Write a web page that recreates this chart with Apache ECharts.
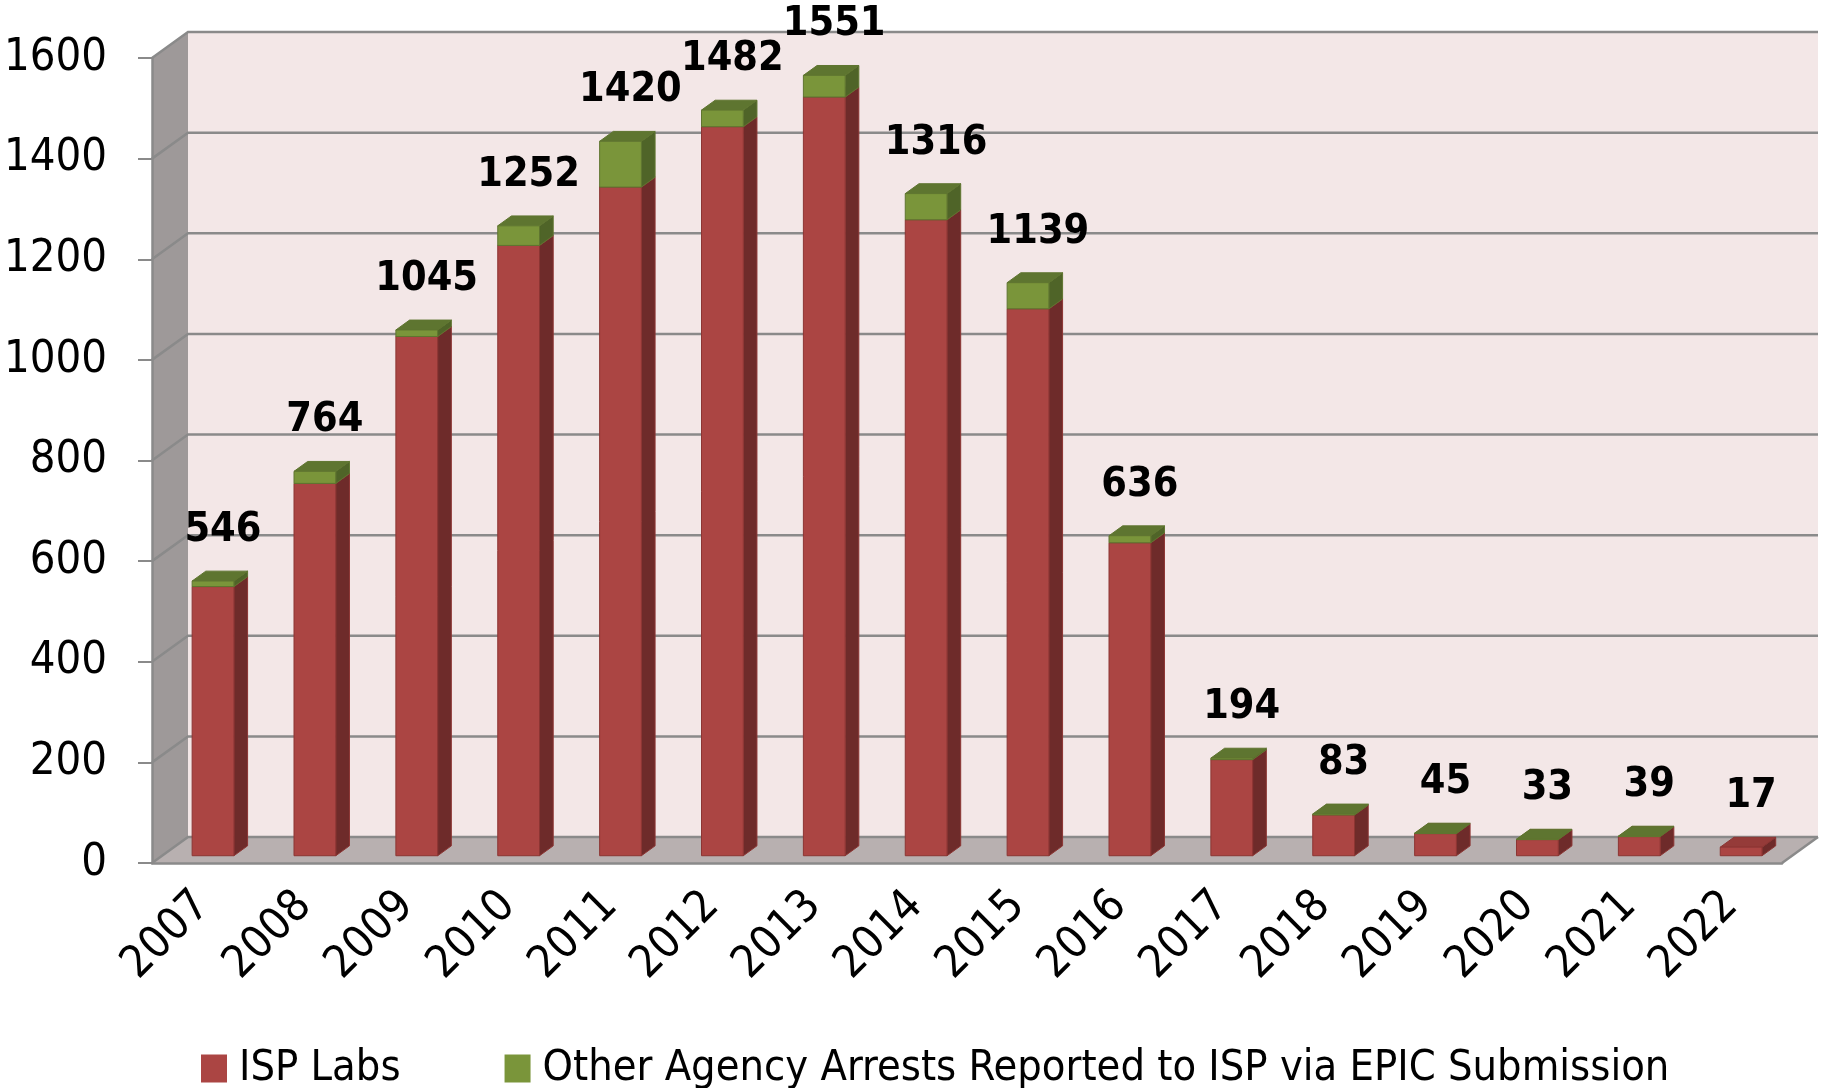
<!DOCTYPE html>
<html>
<head>
<meta charset="utf-8">
<script src="https://cdn.jsdelivr.net/npm/echarts@6/dist/echarts.min.js"></script>
<style>
  html, body { margin: 0; padding: 0; background: #fff; }
  #chart { width: 1826px; height: 1088px; }
</style>
</head>
<body>
<div id="chart"></div>
<script>
const years = ['2007', '2008', '2009', '2010', '2011', '2012', '2013', '2014',
  '2015', '2016', '2017', '2018', '2019', '2020', '2021', '2022']
const ispLabs = [535, 740, 1032, 1213, 1329, 1449, 1508, 1264, 1087, 622, 191, 81, 44, 32, 38, 17]
const otherAgency = [11, 24, 13, 39, 91, 33, 43, 52, 52, 14, 3, 2, 1, 1, 1, 0]
const yTicks = [0, 200, 400, 600, 800, 1000, 1200, 1400, 1600]

const totals = ispLabs.map((v, i) => v + otherAgency[i])

const FONT = "'Liberation Sans Narrow', 'DejaVu Sans Condensed', Lato, sans-serif"
// fake 3D depth of the plot box, in px
const DX = 36
const DY = 26
// bars sit between these fractions of the depth
const F0 = 0.28
const F1 = 0.66

const RED = { front: '#ab4543', side: '#6e2b2a', top: '#953b39', edge: '#8c3533' }
const GREEN = { front: '#7a953a', side: '#4f6428', top: '#5e7530', edge: '#5f7530' }

const chart = echarts.init(document.getElementById('chart'))

function renderWalls(params, api) {
  const band = api.size([1, 0])[0]
  const left = api.coord([0, 0])[0] - band / 2
  const right = api.coord([years.length - 1, 0])[0] + band / 2
  const y0 = api.coord([0, 0])[1]
  const yTop = api.coord([0, yTicks[yTicks.length - 1]])[1]
  const children = [
    {
      type: 'rect',
      shape: { x: left + DX, y: yTop - DY, width: right - left, height: y0 - yTop },
      style: { fill: '#f3e7e7' },
    },
    {
      type: 'polygon',
      shape: { points: [[left, yTop], [left + DX, yTop - DY], [left + DX, y0 - DY], [left, y0]] },
      style: { fill: '#9e9999' },
    },
    {
      type: 'polygon',
      shape: { points: [[left, y0], [right, y0], [right + DX, y0 - DY], [left + DX, y0 - DY]] },
      style: { fill: '#b8b0b0' },
    },
  ]
  yTicks.forEach((v) => {
    const y = api.coord([0, v])[1]
    children.push({
      type: 'polyline',
      shape: { points: [[left, y], [left + DX, y - DY], [right + DX, y - DY]] },
      style: { stroke: '#8a8a8a', lineWidth: 2.5, fill: null },
    })
  })
  children.push({
    type: 'line',
    shape: { x1: right, y1: y0, x2: right + DX, y2: y0 - DY },
    style: { stroke: '#8a8a8a', lineWidth: 2.5 },
  })
  return { type: 'group', children }
}

function boxRenderer(c) {
  return function (params, api) {
    const i = api.value(0)
    const lo = api.value(1)
    const hi = api.value(2)
    if (!(hi > lo)) return
    const band = api.size([1, 0])[0]
    const w = band * 0.41
    const cx = api.coord([i, 0])[0]
    const x0 = cx + DX * F0 - w / 2
    const x1 = x0 + w
    const yLo = api.coord([i, lo])[1] - DY * F0
    const yHi = api.coord([i, hi])[1] - DY * F0
    const sdx = DX * (F1 - F0)
    const sdy = DY * (F1 - F0)
    return {
      type: 'group',
      children: [
        {
          type: 'polygon',
          shape: { points: [[x1, yLo], [x1 + sdx, yLo - sdy], [x1 + sdx, yHi - sdy], [x1, yHi]] },
          style: { fill: c.side, stroke: c.edge, lineWidth: 1 },
        },
        {
          type: 'polygon',
          shape: { points: [[x0, yHi], [x1, yHi], [x1 + sdx, yHi - sdy], [x0 + sdx, yHi - sdy]] },
          style: { fill: c.top, stroke: c.edge, lineWidth: 1 },
        },
        {
          type: 'rect',
          shape: { x: x0, y: yHi, width: w, height: yLo - yHi },
          style: { fill: c.front, stroke: c.edge, lineWidth: 1 },
        },
      ],
    }
  }
}

function renderLabel(params, api) {
  const i = api.value(0)
  const total = api.value(1)
  const p = api.coord([i, total])
  return {
    type: 'text',
    x: p[0] + 20,
    y: p[1] - 58,
    style: {
      text: String(total),
      fontSize: 41,
      fontWeight: 'bold',
      fontFamily: FONT,
      fill: '#000',
      align: 'center',
      verticalAlign: 'middle',
    },
  }
}

chart.setOption({
  animation: false,
  legend: {
    data: ['ISP Labs', 'Other Agency Arrests Reported to ISP via EPIC Submission'],
    icon: 'rect',
    left: 196,
    top: 1042,
    itemWidth: 26,
    itemHeight: 28,
    itemGap: 104,
    textStyle: { fontSize: 43, fontFamily: FONT, color: '#000', padding: [0, 0, 0, 7] },
  },
  grid: { left: 152, right: 44, top: 58, bottom: 225, outerBoundsMode: 'none' },
  xAxis: {
    type: 'category',
    data: years,
    z: 10,
    axisLine: { lineStyle: { color: '#8a8a8a', width: 2.5 } },
    axisTick: { length: 13, lineStyle: { color: '#8a8a8a', width: 2 } },
    axisLabel: { rotate: 45, interval: 0, margin: 36, fontSize: 45, fontFamily: FONT, color: '#000' },
  },
  yAxis: {
    type: 'value',
    min: 0,
    max: 1600,
    interval: 200,
    z: 10,
    axisLine: { show: true, lineStyle: { color: '#8a8a8a', width: 2.5 } },
    axisTick: { show: true, length: 14, lineStyle: { color: '#8a8a8a', width: 2 } },
    axisLabel: {
      margin: 45,
      fontSize: 45,
      fontFamily: FONT,
      color: '#000',
      formatter: (v) => String(v),
    },
    splitLine: { show: false },
  },
  series: [
    {
      type: 'custom',
      name: 'walls',
      silent: true,
      clip: false,
      z: 1,
      renderItem: renderWalls,
      data: [[0, 0]],
    },
    {
      type: 'custom',
      name: 'ISP Labs',
      clip: false,
      z: 2,
      itemStyle: { color: RED.front },
      renderItem: boxRenderer(RED),
      encode: { x: 0, y: [1, 2] },
      data: ispLabs.map((v, i) => [i, 0, v]),
    },
    {
      type: 'custom',
      name: 'Other Agency Arrests Reported to ISP via EPIC Submission',
      clip: false,
      z: 3,
      itemStyle: { color: GREEN.front },
      renderItem: boxRenderer(GREEN),
      encode: { x: 0, y: [1, 2] },
      data: otherAgency.map((v, i) => [i, ispLabs[i], ispLabs[i] + v]),
    },
    {
      type: 'custom',
      name: 'totals',
      silent: true,
      clip: false,
      z: 4,
      renderItem: renderLabel,
      encode: { x: 0, y: 1 },
      data: totals.map((v, i) => [i, v]),
    },
  ],
})
</script>
</body>
</html>
